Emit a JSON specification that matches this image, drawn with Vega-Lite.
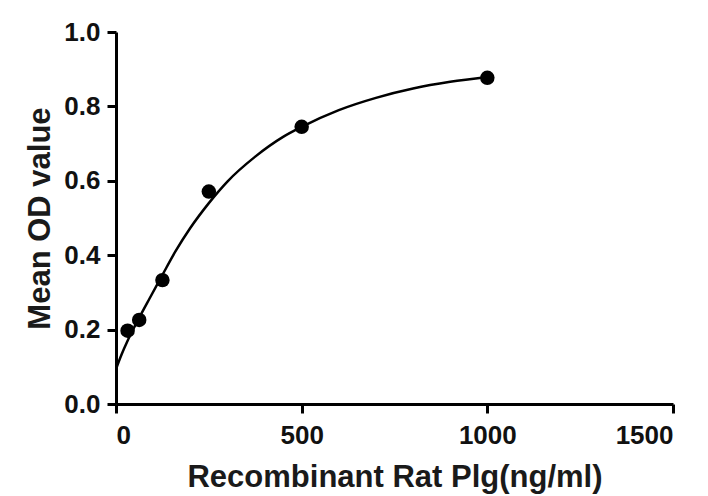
{
  "$schema": "https://vega.github.io/schema/vega-lite/v6.json",
  "width": 557,
  "height": 372,
  "autosize": {"type": "none"},
  "padding": {"left": 116, "top": 32, "right": 35, "bottom": 92},
  "background": "white",
  "datasets": {
    "curve": [
      {"conc": 0, "od": 0.094},
      {"conc": 15, "od": 0.133},
      {"conc": 31.25, "od": 0.17},
      {"conc": 50, "od": 0.208},
      {"conc": 62.5, "od": 0.232},
      {"conc": 90, "od": 0.283},
      {"conc": 125, "od": 0.347},
      {"conc": 160, "od": 0.41},
      {"conc": 200, "od": 0.473},
      {"conc": 250, "od": 0.54},
      {"conc": 300, "od": 0.598},
      {"conc": 375, "od": 0.665},
      {"conc": 450, "od": 0.718},
      {"conc": 500, "od": 0.745},
      {"conc": 600, "od": 0.79},
      {"conc": 700, "od": 0.823},
      {"conc": 800, "od": 0.848},
      {"conc": 900, "od": 0.866},
      {"conc": 1000, "od": 0.879}
    ],
    "points": [
      {"conc": 31.25, "od": 0.197},
      {"conc": 62.5, "od": 0.226},
      {"conc": 125, "od": 0.333},
      {"conc": 250, "od": 0.571},
      {"conc": 500, "od": 0.745},
      {"conc": 1000, "od": 0.877}
    ]
  },
  "config": {
    "view": {"stroke": null},
    "font": "Liberation Sans",
    "axis": {
      "grid": false,
      "domainColor": "black",
      "domainWidth": 3,
      "tickColor": "black",
      "tickWidth": 3,
      "tickSize": 9,
      "labelFont": "Liberation Sans",
      "labelFontSize": 26,
      "labelFontWeight": "bold",
      "labelColor": "#111111",
      "titleFont": "Liberation Sans",
      "titleFontSize": 31,
      "titleFontWeight": "bold",
      "titleColor": "#1a1a1a"
    }
  },
  "layer": [
    {
      "data": {"name": "curve"},
      "mark": {"type": "line", "color": "black", "strokeWidth": 2.5, "interpolate": "monotone"},
      "encoding": {
        "x": {
          "field": "conc",
          "type": "quantitative",
          "scale": {"domain": [0, 1500], "nice": false},
          "axis": {"values": [0, 500, 1000, 1500], "format": "d", "labelPadding": 9, "titlePadding": 14, "title": "Recombinant Rat Plg(ng/ml)"}
        },
        "y": {
          "field": "od",
          "type": "quantitative",
          "scale": {"domain": [0, 1], "nice": false},
          "axis": {"values": [0, 0.2, 0.4, 0.6, 0.8, 1.0], "format": ".1f", "labelPadding": 7, "titlePadding": 7, "title": "Mean OD value"}
        }
      }
    },
    {
      "data": {"name": "points"},
      "mark": {"type": "point", "filled": true, "color": "black", "opacity": 1, "size": 210},
      "encoding": {
        "x": {"field": "conc", "type": "quantitative"},
        "y": {"field": "od", "type": "quantitative"}
      }
    }
  ]
}
